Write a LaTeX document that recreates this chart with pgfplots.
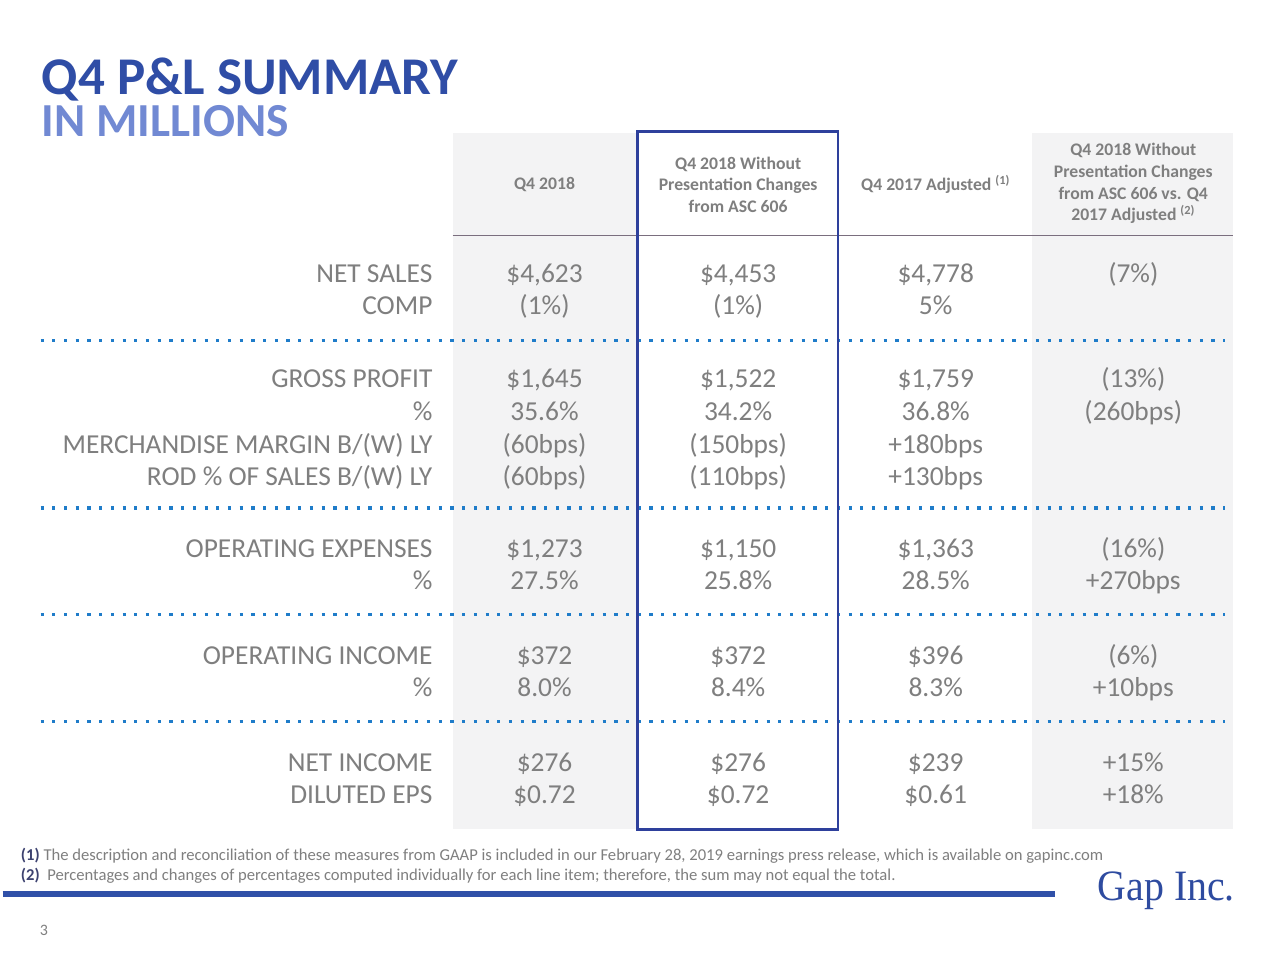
\documentclass[border=0pt]{standalone}
\usepackage{pgfplots}
\pgfplotsset{compat=1.18}
\usepackage{pgfplotstable}
\usepackage{graphicx}
\usepackage{fontspec}
\setmainfont{Carlito}
\newfontfamily\logofont{Liberation Serif}
\definecolor{titleblue}{HTML}{2F4DA6}
\definecolor{lightblue}{HTML}{7189D3}
\definecolor{txtgray}{HTML}{7F7F7F}
\definecolor{shade}{HTML}{F3F3F4}
\definecolor{boxblue}{HTML}{2E409C}
\definecolor{dotblue}{HTML}{1F7CC9}
\definecolor{rulegray}{HTML}{7A6E7E}
\definecolor{barblue}{HTML}{3050A8}
\definecolor{logoblue}{HTML}{2E4BA0}
\definecolor{notedark}{HTML}{3D4270}

\pgfplotstableread[col sep=semicolon]{
y;label;c1;c2;c3;c4
283;NET SALES;\$4,623;\$4,453;\$4,778;(7\%)
315;COMP;(1\%);(1\%);5\%;{}
388;GROSS PROFIT;\$1,645;\$1,522;\$1,759;(13\%)
421;\%;35.6\%;34.2\%;36.8\%;(260bps)
454;MERCHANDISE MARGIN B/(W) LY;(60bps);(150bps);+180bps;{}
486;ROD \% OF SALES B/(W) LY;(60bps);(110bps);+130bps;{}
559;OPERATING EXPENSES;\$1,273;\$1,150;\$1,363;(16\%)
591;\%;27.5\%;25.8\%;28.5\%;+270bps
666;OPERATING INCOME;\$372;\$372;\$396;(6\%)
698;\%;8.0\%;8.4\%;8.3\%;+10bps
773;NET INCOME;\$276;\$276;\$239;+15\%
805;DILUTED EPS;\$0.72;\$0.72;\$0.61;+18\%
}\pldata

\begin{document}
\begin{tikzpicture}
\begin{axis}[
  width=720bp, height=540bp, scale only axis,
  xmin=0, xmax=1280, ymin=0, ymax=960, y dir=reverse,
  hide axis, clip=false, no markers,
  valtext/.style={draw=none, nodes near coords, point meta=explicit symbolic,
    nodes near coords align={anchor=base},
    every node near coord/.append style={inner sep=0pt, text=txtgray, font=\fontsize{15.5}{18}\selectfont}},
  dotline/.style={draw=dotblue, line width=1.8bp, dash pattern=on 1.8bp off 4.8bp},
]
% background
\addplot[fill=white, draw=none] coordinates {(0,0)(1280,0)(1280,960)(0,960)} -- cycle;
% shaded columns
\addplot[fill=shade, draw=none] coordinates {(451,133)(636,133)(636,831)(451,831)} -- cycle;
\addplot[fill=shade, draw=none] coordinates {(1031,133)(1233,133)(1233,831)(1031,831)} -- cycle;
% header rule
\addplot[draw=rulegray, line width=0.8bp] coordinates {(451,236)(1233,236)};
% dotted separators
\addplot[dotline] coordinates {(38,341)(1225,341)};
\addplot[dotline] coordinates {(38,509)(1225,509)};
\addplot[dotline] coordinates {(38,616)(1225,616)};
\addplot[dotline] coordinates {(38,723)(1225,723)};
% highlight box
\addplot[draw=boxblue, line width=1.6bp] coordinates {(636,132)(837,132)(837,831)(636,831)} -- cycle;
% bottom bar
\addplot[draw=barblue, line width=3bp] coordinates {(0,896)(1055,896)};

% row labels and values
\addplot[valtext, nodes near coords align={anchor=base east}] table[x expr=431, y=y, meta=label] {\pldata};
\addplot[valtext] table[x expr=543, y=y, meta=c1] {\pldata};
\addplot[valtext] table[x expr=737, y=y, meta=c2] {\pldata};
\addplot[valtext] table[x expr=935, y=y, meta=c3] {\pldata};
\addplot[valtext] table[x expr=1133, y=y, meta=c4] {\pldata};

% titles
\node[anchor=base west, inner sep=0pt, text=titleblue, font=\bfseries\fontsize{30}{36}\selectfont] at (axis cs:39,95) {Q4 P\&L SUMMARY};
\node[anchor=base west, inner sep=0pt, text=lightblue, font=\bfseries\fontsize{26.8}{32}\selectfont] at (axis cs:39,137) {IN MILLIONS};

% headers
\begin{scope}[every node/.style={inner sep=0pt, text=txtgray, align=center, font=\bfseries\fontsize{10}{12.2}\selectfont}]
\node at (axis cs:543,185) {Q4 2018};
\node at (axis cs:737,185) {Q4 2018 Without\\Presentation Changes\\from ASC 606};
\node at (axis cs:935,185) {Q4 2017 Adjusted \textsuperscript{(1)}};
\node at (axis cs:1133,184) {Q4 2018 Without\\Presentation Changes\\from ASC 606 vs. Q4\\2017 Adjusted \textsuperscript{(2)}};
\end{scope}

% footnotes
\node[anchor=base west, inner sep=0pt, text=txtgray, font=\fontsize{9.4}{11}\selectfont] at (axis cs:18,862) {\textcolor{notedark}{\bfseries (1)} The description and reconciliation of these measures from GAAP is included in our February 28, 2019 earnings press release, which is available on gapinc.com};
\node[anchor=base west, inner sep=0pt, text=txtgray, font=\fontsize{9.4}{11}\selectfont] at (axis cs:18,882) {\textcolor{notedark}{\bfseries (2)}\ \ Percentages and changes of percentages computed individually for each line item; therefore, the sum may not equal the total.};
\node[anchor=base west, inner sep=0pt, text=txtgray, font=\fontsize{9}{10}\selectfont] at (axis cs:37,937) {3};
% logo
\node[anchor=base west, inner sep=0pt, text=logoblue, font=\logofont\fontsize{24.5}{28}\selectfont] at (axis cs:1097,902) {\scalebox{0.92}[1]{Gap Inc.}};
\end{axis}
\end{tikzpicture}
\end{document}
